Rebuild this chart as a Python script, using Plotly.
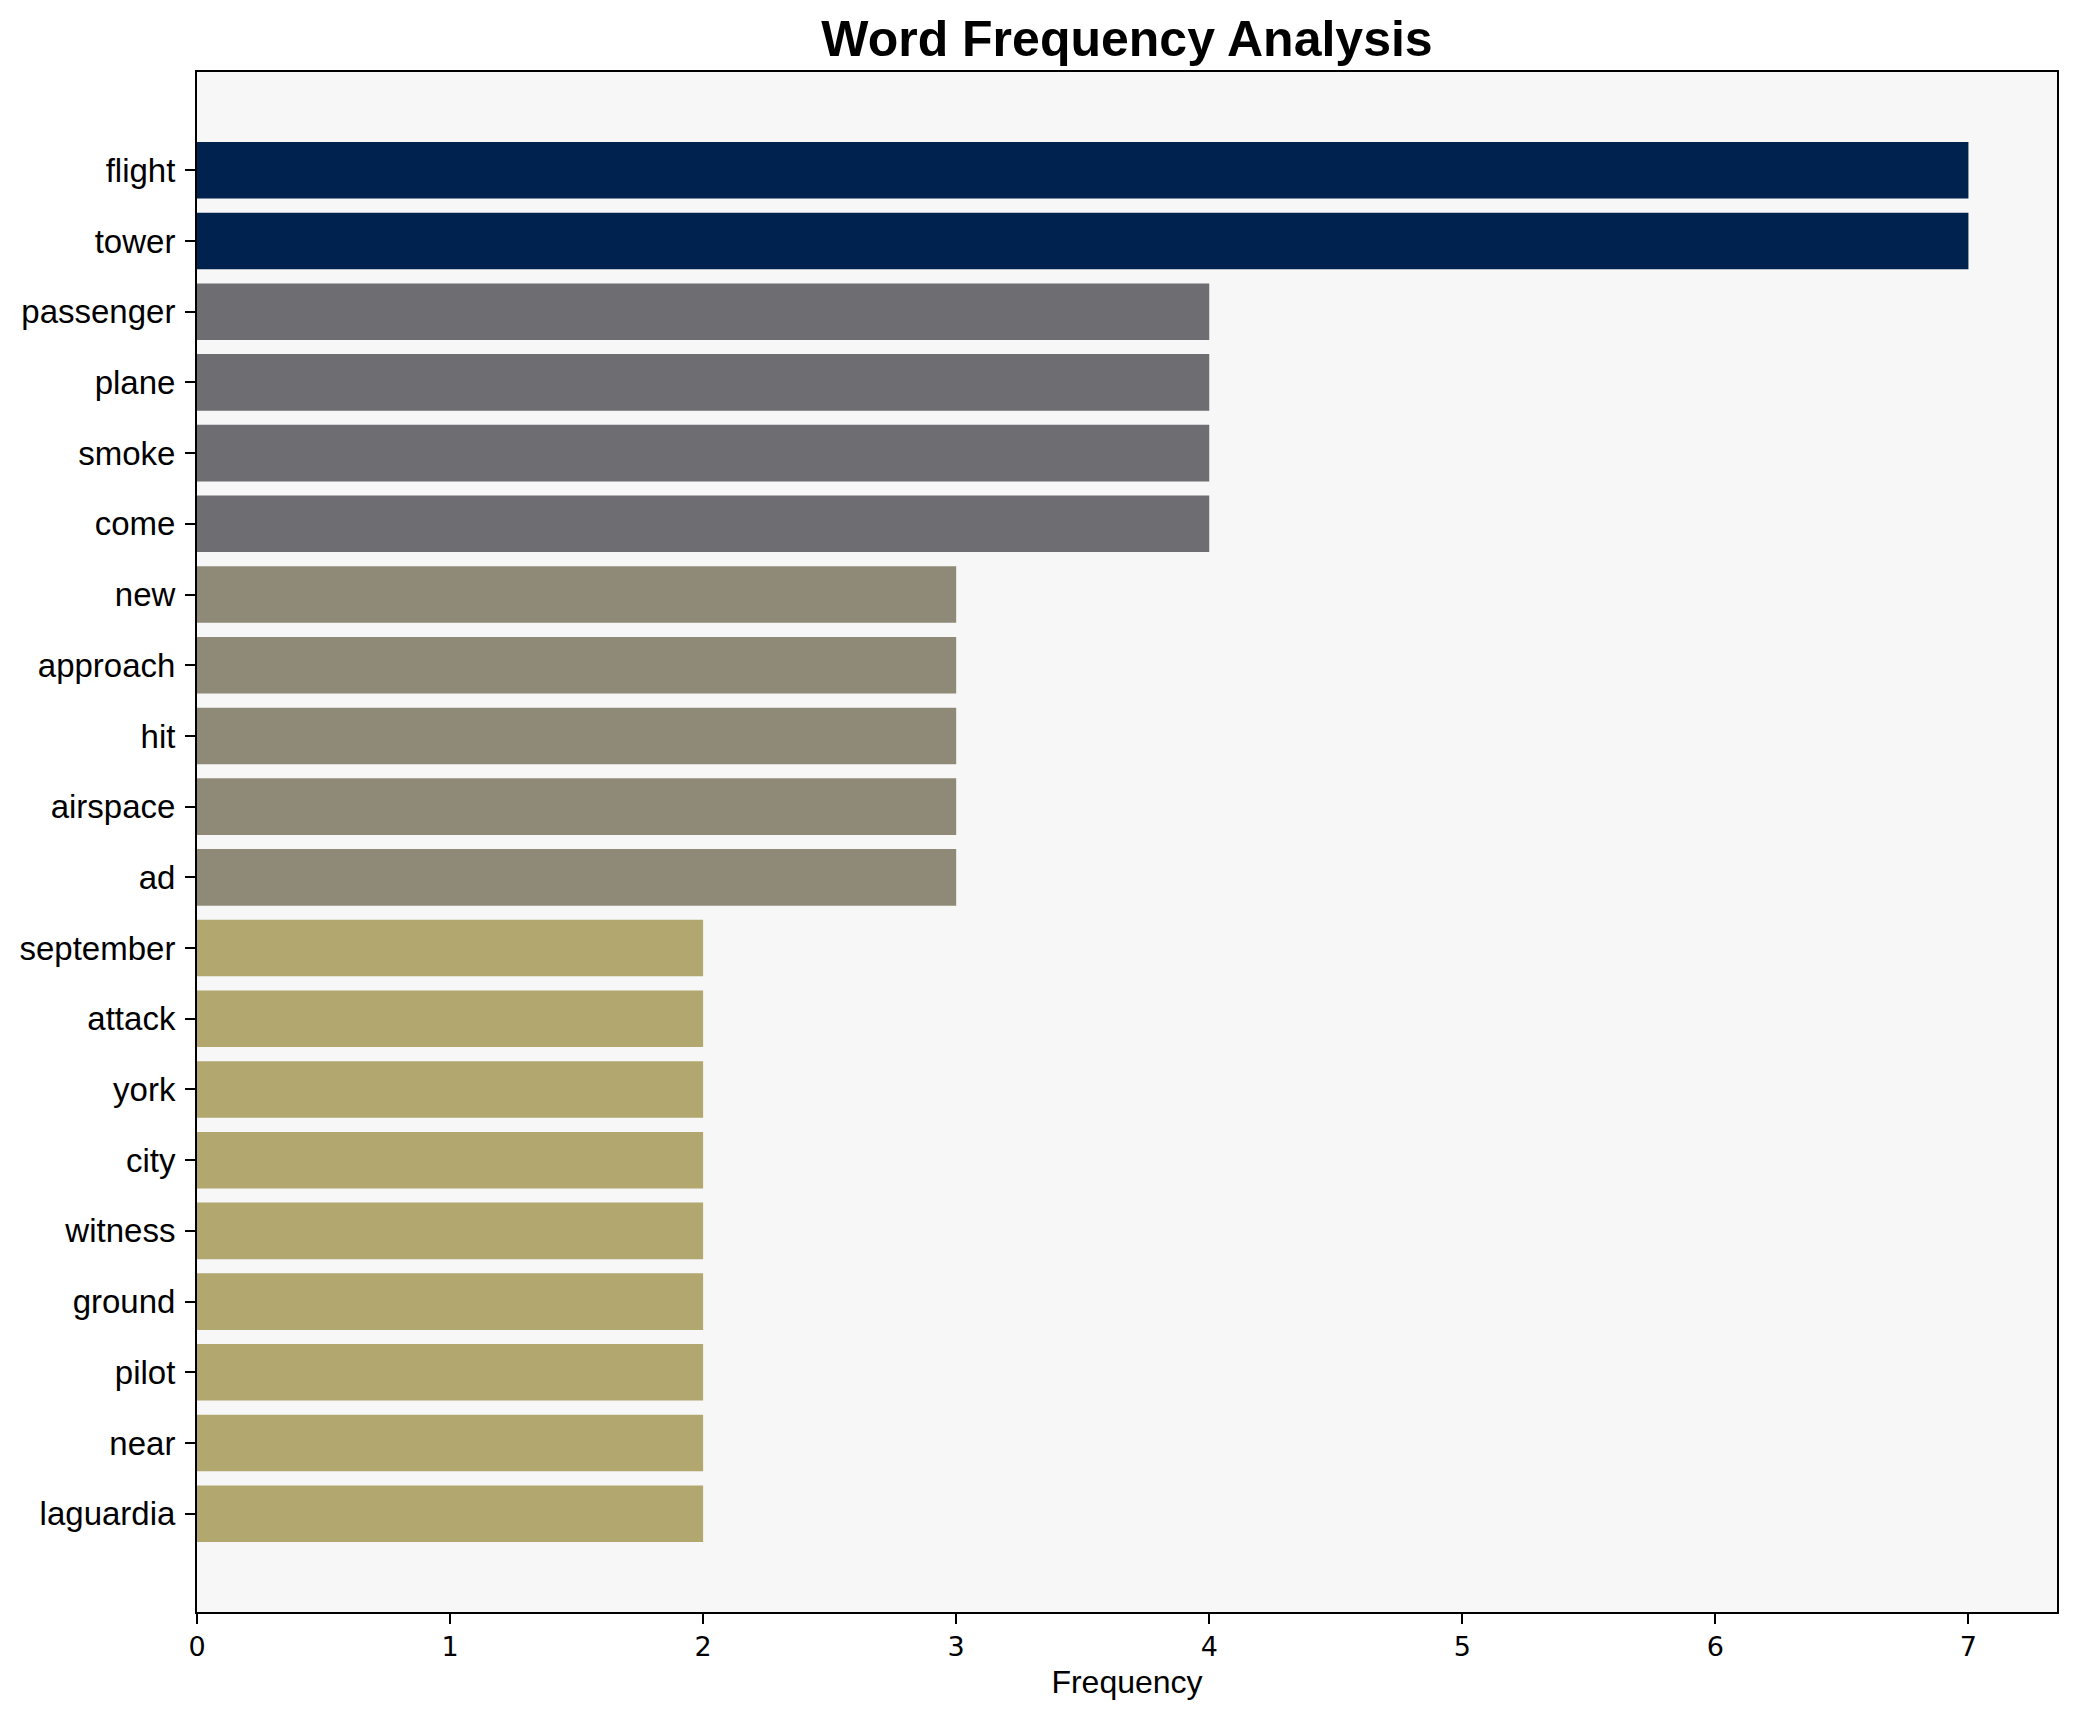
import plotly.graph_objects as go

words = ["flight", "tower", "passenger", "plane", "smoke", "come", "new", "approach",
         "hit", "airspace", "ad", "september", "attack", "york", "city", "witness",
         "ground", "pilot", "near", "laguardia"]
freqs = [7, 7, 4, 4, 4, 4, 3, 3, 3, 3, 3, 2, 2, 2, 2, 2, 2, 2, 2, 2]
color_by_freq = {7: "#00224E", 4: "#6E6E72", 3: "#8F8A77", 2: "#B1A76F"}
colors = [color_by_freq[f] for f in freqs]
x_ticks = [0, 1, 2, 3, 4, 5, 6, 7]

fig = go.Figure(go.Bar(
    x=freqs, y=words, orientation="h",
    marker=dict(color=colors, line=dict(width=0)),
    width=0.8,
))

fig.update_layout(
    width=2077, height=1722,
    margin=dict(l=189, r=28, t=64, b=118),
    paper_bgcolor="white",
    plot_bgcolor="#F7F7F7",
    showlegend=False,
    title=dict(text="<b>Word Frequency Analysis</b>", x=0.5, xref="paper", xanchor="center",
               y=1 - 30 / 1722, yref="container", yanchor="middle",
               font=dict(family="Liberation Sans, Arial", size=50, color="black")),
)

fig.update_xaxes(
    range=[0, 7.35], tickvals=x_ticks, ticktext=[str(v) for v in x_ticks],
    showgrid=False, zeroline=False,
    showline=True, linecolor="black", linewidth=2, mirror=True,
    ticks="outside", ticklen=10, tickwidth=2, tickcolor="black",
    tickfont=dict(family="DejaVu Sans", size=27, color="black"),
    title=dict(text="Frequency", standoff=9,
               font=dict(family="Liberation Sans, Arial", size=32, color="black")),
    automargin=False,
)
fig.update_yaxes(
    type="category", range=[len(words) - 1 + 1.39, -1.39],
    showgrid=False, zeroline=False,
    showline=True, linecolor="black", linewidth=2, mirror=True,
    ticks="outside", ticklen=10, tickwidth=2, tickcolor="black",
    ticklabelstandoff=3,
    tickfont=dict(family="Liberation Sans, Arial", size=33, color="black"),
    automargin=False,
)

fig.write_html("out.html")
